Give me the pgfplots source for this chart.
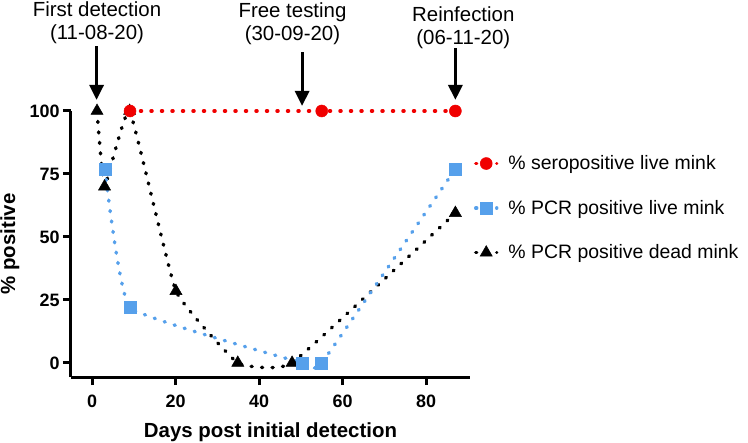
\documentclass[border=0pt]{standalone}
\usepackage{fontspec}
\setmainfont{Liberation Sans}
\usepackage{pgfplots}
\pgfplotsset{compat=1.18}
\usetikzlibrary{arrows.meta}
\definecolor{pblue}{RGB}{86,160,235}
\definecolor{pred}{RGB}{240,0,0}
\begin{document}
\begin{tikzpicture}
\useasboundingbox (-71bp,-66bp) rectangle (677bp,377bp);
\begin{axis}[
  at={(0,0)}, anchor=south west,
  scale only axis, width=399bp, height=266bp,
  xmin=-5.03, xmax=90.5, ymin=-5.6, ymax=100,
  axis lines=left, axis line style={-, line width=3bp},
  clip=false,
  xtick={0,20,40,60,80}, ytick={0,25,50,75,100},
  tick align=outside, major tick length=8bp,
  tick style={line width=3bp, black},
  /pgf/number format/assume math mode=true,
  ticklabel style={font=\fontsize{18}{20}\selectfont\bfseries},
  xticklabel style={yshift=-6bp},
  xlabel={Days post initial detection},
  ylabel={\% positive},
  xlabel style={font=\fontsize{20.5}{22}\selectfont\bfseries, at={(axis description cs:0.5,-0.207)}, anchor=center},
  ylabel style={font=\fontsize{20.5}{22}\selectfont\bfseries, at={(axis description cs:-0.153,0.5)}, anchor=center, rotate=0},
  legend style={draw=none, fill=none, at={(axis description cs:1.002,0.635)}, anchor=west,
    font=\fontsize{19.5}{21}\selectfont, row sep=25bp, column sep=8bp},
  legend cell align=left,
  reverse legend,
  legend image code/.code={\draw[mark repeat=2,mark phase=2,#1] plot coordinates {(0bp,0bp) (10.5bp,0bp) (21bp,0bp)};},
]
\addplot[black, line width=3.5bp, dash pattern=on 1bp off 9.5bp, line cap=round, smooth, tension=0.2, mark=triangle*, mark size=7bp, mark options={solid, line width=0.5bp}] coordinates {
(1.2,100) (3,70) (9,100) (20.1,28.5) (34.9,0) (47.9,0) (87,59.5)};
\addlegendentry{\% PCR positive dead mink}
\addplot[pblue, line width=3.5bp, dash pattern=on 1bp off 9.5bp, line cap=round, smooth, tension=0.2, mark=square*, mark size=6bp, mark options={solid, line width=0.5bp}] coordinates {
(3.1,77) (9.1,22) (50.3,0) (55,0) (87,77)};
\addlegendentry{\% PCR positive live mink}
\addplot[pred, line width=3.5bp, dash pattern=on 1bp off 9.5bp, line cap=round, smooth, tension=0.2, mark=*, mark size=6bp, mark options={solid, line width=0.5bp}] coordinates {
(9.1,100) (55,100) (87,100)};
\addlegendentry{\% seropositive live mink}

\draw[line width=3bp, -{Triangle[width=14bp,length=15bp]}] (axis cs:1.1,125.8) -- (axis cs:1.1,104.4);
\draw[line width=3bp, -{Triangle[width=14bp,length=15bp]}] (axis cs:50.3,123.4) -- (axis cs:50.3,102);
\draw[line width=3bp, -{Triangle[width=14bp,length=15bp]}] (axis cs:87,125) -- (axis cs:87,104.4);
\node[align=center, font=\fontsize{20.5}{23}\selectfont] at (axis cs:1.2,135.1) {First detection\\(11-08-20)};
\node[align=center, font=\fontsize{20.5}{23}\selectfont] at (axis cs:48,134.7) {Free testing\\(30-09-20)};
\node[align=center, font=\fontsize{20.5}{23}\selectfont] at (axis cs:88.9,133.2) {Reinfection\\(06-11-20)};
\end{axis}
\end{tikzpicture}
\end{document}
